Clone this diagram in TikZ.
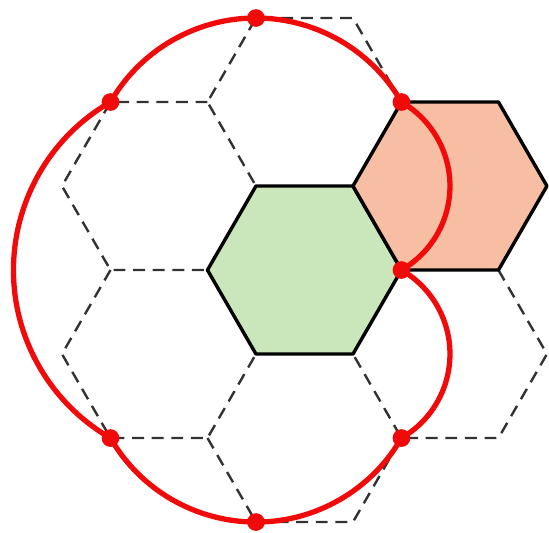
\documentclass[tikz,border=0pt]{standalone}
\definecolor{greenfill}{RGB}{201,231,186}
\definecolor{orangefill}{RGB}{248,190,164}
\definecolor{gridgrey}{RGB}{50,50,50}
\definecolor{loopred}{RGB}{240,10,10}
\begin{document}
\begin{tikzpicture}[x=2cm,y=2cm,
  gridhex/.style={draw=gridgrey, line width=1.4pt, dash pattern=on 7pt off 4.5pt, line join=round},
  tilehex/.style={draw=black, line width=2pt, line join=round},
  loopline/.style={draw=loopred, line width=3.1pt, line join=round},
  reddot/.style={fill=loopred}]
\useasboundingbox (-3.139,-2.701) rectangle (2.521,2.784);
\def\h{0.8660254}
\def\s{1.7320508}
\def\t{2.5980762}
% dashed edges of the neighbouring hexagons (each edge once)
\draw[gridhex] (1,\s) -- (0.5,\t) -- (-0.5,\t) -- (-1,\s) -- (-0.5,\h);
\draw[gridhex] (-1,\s) -- (-2,\s) -- (-2.5,\h) -- (-2,0) -- (-1,0);
\draw[gridhex] (-2,0) -- (-2.5,-\h) -- (-2,-\s) -- (-1,-\s) -- (-0.5,-\h);
\draw[gridhex] (-1,-\s) -- (-0.5,-\t) -- (0.5,-\t) -- (1,-\s) -- (0.5,-\h);
\draw[gridhex] (2,0) -- (2.5,-\h) -- (2,-\s) -- (1,-\s);
% green and orange tiles
\draw[tilehex, fill=greenfill] (0:1) -- (60:1) -- (120:1) -- (180:1) -- (240:1) -- (300:1) -- cycle;
\draw[tilehex, fill=orangefill, shift={(1.5,\h)}] (0:1) -- (60:1) -- (120:1) -- (180:1) -- (240:1) -- (300:1) -- cycle;
% points
\coordinate (T) at (-0.5,\t);
\coordinate (UL) at (-2,\s);
\coordinate (UR) at (1,\s);
\coordinate (R) at (1,0);
\coordinate (LL) at (-2,-\s);
\coordinate (LR) at (1,-\s);
\coordinate (B) at (-0.5,-\t);
% red loop
\draw[loopline] (UR) arc[start angle=30,end angle=150,radius=\s]
  arc[start angle=120,end angle=240,radius=2]
  arc[start angle=210,end angle=330,radius=\s]
  arc[start angle=-60,end angle=60,radius=1]
  arc[start angle=-60,end angle=60,radius=1] -- cycle;
\foreach \p in {T,UL,UR,R,LL,LR,B}
  \fill[reddot] (\p) circle (5.2pt);
\end{tikzpicture}
\end{document}
